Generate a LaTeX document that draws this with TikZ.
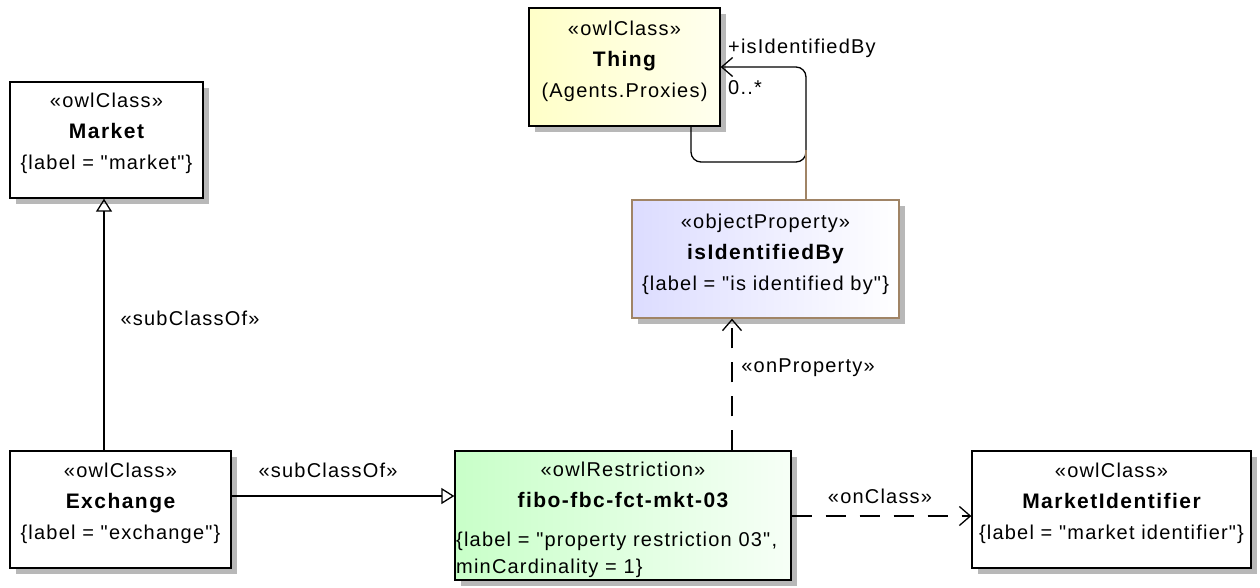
\documentclass[tikz,border=0pt]{standalone}
\usepackage{fontspec}
\setmainfont{Liberation Sans}[LetterSpace=6, Ligatures=TeXOff]
\newfontface\umlbold{Liberation Sans Bold}[LetterSpace=7, Ligatures=TeXOff]
\usetikzlibrary{arrows.meta,shadows,calc}
\definecolor{umlbrown}{HTML}{A08466}
\definecolor{thingyel}{HTML}{FFFFC8}
\definecolor{propblue}{HTML}{DCDCFF}
\definecolor{restgreen}{HTML}{C8FFC8}
\newcommand\dq{\symbol{"22}}
\newcommand\nm[1]{{\fontsize{21}{31}\umlbold #1}}
\tikzset{
  umlbox/.style={draw=black, line width=1.3pt, inner sep=0pt, fill=white,
    drop shadow={shadow xshift=6pt, shadow yshift=-6pt, fill=gray!70, opacity=0.8}},
  umltext/.style={align=center, inner sep=0pt, font=\fontsize{20}{31}\selectfont},
  lbltext/.style={inner sep=0pt, font=\fontsize{20}{24}\selectfont},
  conn/.style={line width=1.3pt},
  gen/.style={conn, -{Triangle[open, length=13pt, width=16pt]}},
  barb/.style={-{Straight Barb[length=11pt, width=19pt]}},
  dep/.style={conn, barb, dash pattern=on 20pt off 14pt},
}
\begin{document}
\begin{tikzpicture}[x=1pt, y=-1pt]
\useasboundingbox (0,0) rectangle (1260,587);

% boxes
\node[umlbox, minimum width=193pt, minimum height=116pt] (market) at (106.5,140) {};
\node[umlbox, minimum width=191pt, minimum height=118pt, left color=thingyel, right color=thingyel!30] (thing) at (624.5,67) {};
\node[umlbox, draw=umlbrown, minimum width=267pt, minimum height=118pt, left color=propblue, right color=white] (prop) at (765.5,259) {};
\node[umlbox, minimum width=221pt, minimum height=117pt] (exch) at (120.5,509.5) {};
\node[umlbox, minimum width=336pt, minimum height=129pt, left color=restgreen, right color=restgreen!15] (rest) at (623,515.5) {};
\node[umlbox, minimum width=279pt, minimum height=117pt] (mid) at (1111.5,509.5) {};

% texts
\node[umltext] (market-t) at ($(market)+(0,-7)$) {«owlClass»\\\nm{Market}\\\{label = \dq market\dq\}};
\node[umltext] (thing-t) at ($(thing)+(0,-5.5)$) {«owlClass»\\\nm{Thing}\\(Agents.Proxies)};
\node[umltext] (prop-t) at ($(prop)+(0,-5)$) {«objectProperty»\\\nm{isIdentifiedBy}\\\{label = \dq is identified by\dq\}};
\node[umltext] (exch-t) at ($(exch)+(0,-6)$) {«owlClass»\\\nm{Exchange}\\\{label = \dq exchange\dq\}};
\node[umltext] (mid-t) at ($(mid)+(0,-6)$) {«owlClass»\\\nm{MarketIdentifier}\\\{label = \dq market identifier\dq\}};
\node[umltext] (rest-t) at (623,485) {«owlRestriction»\\\nm{fibo-fbc-fct-mkt-03}};
\node[umltext, align=left, anchor=west, font=\fontsize{20}{27}\selectfont] (rest-l) at (456,555) {\{label = \dq property restriction 03\dq,\\minCardinality = 1\}};

% connectors
\draw[gen] (exch.north -| 104,0) -- (market.south -| 104,0);
\node[lbltext] (sub1) at (190,318) {«subClassOf»};
\draw[gen] (exch.east |- 0,496) -- (rest.west |- 0,496);
\node[lbltext] (sub2) at (328,470) {«subClassOf»};
\draw[dep] (rest.north -| 732,0) -- (prop.south -| 732,0);
\node[lbltext] (onp) at (808,368) {«onProperty»};
\draw[dep] (rest.east |- 0,516) -- (mid.west |- 0,516);
\node[lbltext] (onc) at (880,496) {«onClass»};

% self association
\coordinate (loopstart) at (691,126);
\coordinate (loopc) at (806,67);
\draw[conn, barb, rounded corners=10pt] (loopstart) -- (691,162) -| (loopc) -- (thing.east);
\coordinate (assocmid) at (806,150);
\draw[conn, draw=umlbrown] (assocmid) -- (prop.north -| assocmid);
\node[lbltext, anchor=west] (role) at (728,48) {+isIdentifiedBy};
\node[lbltext, anchor=west] (mult) at (728,88) {0..*};
\end{tikzpicture}
\end{document}
